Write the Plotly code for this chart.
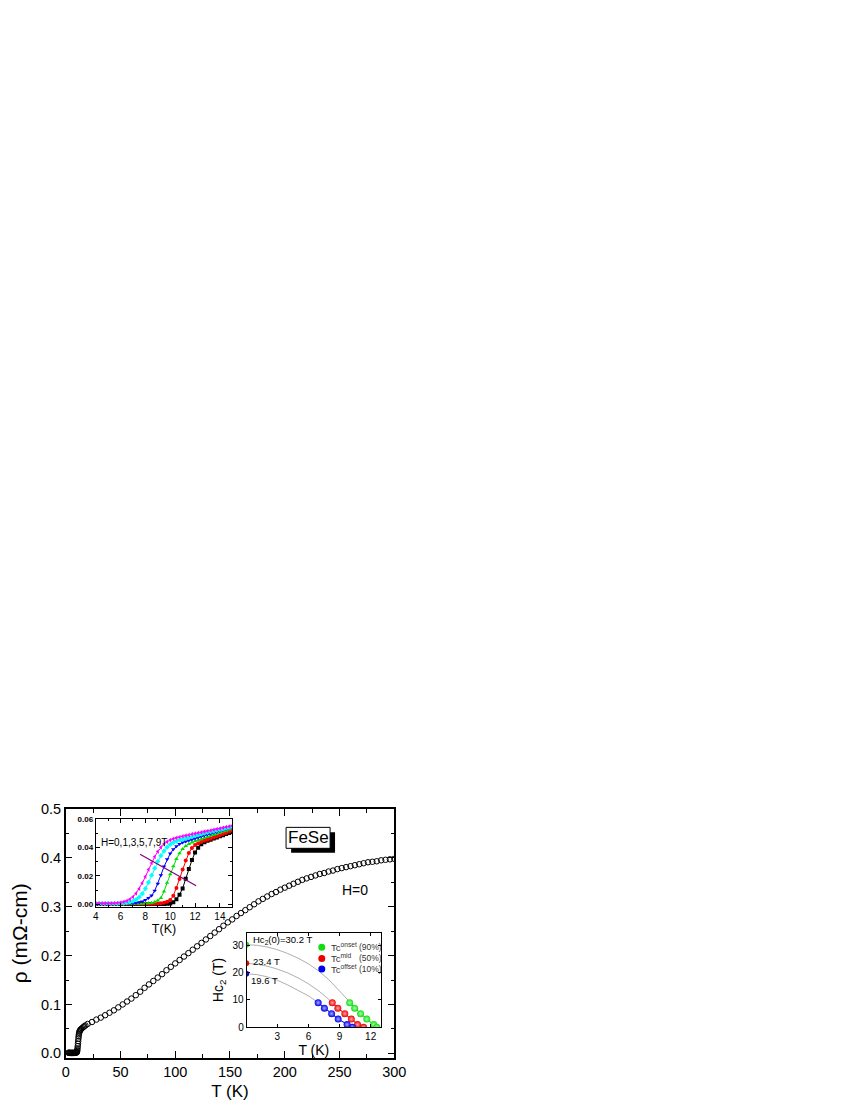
import plotly.graph_objects as go

# ---- main panel: rho(T) at H = 0 ----
t_low = [2.5, 3.0, 3.5, 4.0, 4.5, 5.0, 5.5, 6.0, 6.5, 7.0, 7.5, 8.0, 8.5, 9.0, 9.5,
         10.0, 10.2, 10.4, 10.6, 10.8, 11.0, 11.2, 11.4, 11.6, 11.8, 12.0, 12.3, 12.6,
         13.0, 13.5, 14.0, 15.0, 16.0, 17.0, 18.0]
rho_low = [0.0012, 0.0010, 0.0009, 0.0009, 0.0008, 0.0008, 0.0008, 0.0008, 0.0008, 0.0008,
           0.0009, 0.0009, 0.0010, 0.0011, 0.0013, 0.0018, 0.0025, 0.0040, 0.0065, 0.0100,
           0.0145, 0.0195, 0.0250, 0.0300, 0.0345, 0.0385, 0.0420, 0.0445, 0.0465, 0.0482,
           0.0495, 0.0515, 0.0535, 0.0553, 0.0570]
t_high = [20, 24, 28, 32, 36, 40, 44, 48, 52, 56, 60, 64, 68, 72, 76, 80, 84, 88, 92, 96,
          100, 104, 108, 112, 116, 120, 124, 128, 132, 136, 140, 144, 148, 152, 156, 160,
          164, 168, 172, 176, 180, 184, 188, 192, 196, 200, 204, 208, 212, 216, 220, 224,
          228, 232, 236, 240, 244, 248, 252, 256, 260, 264, 268, 272, 276, 280, 284, 288,
          292, 296, 300]
rho_high = [0.060, 0.064, 0.069, 0.073, 0.078, 0.083, 0.088, 0.094, 0.100, 0.106,
            0.112, 0.119, 0.126, 0.134, 0.141, 0.148, 0.155, 0.162, 0.170, 0.177,
            0.184, 0.191, 0.198, 0.205, 0.212, 0.219, 0.226, 0.233, 0.240, 0.247,
            0.254, 0.261, 0.268, 0.274, 0.281, 0.287, 0.293, 0.299, 0.305, 0.311,
            0.316, 0.321, 0.326, 0.330, 0.335, 0.339, 0.343, 0.347, 0.351, 0.355,
            0.358, 0.361, 0.364, 0.367, 0.369, 0.372, 0.374, 0.377, 0.379, 0.381,
            0.383, 0.385, 0.387, 0.389, 0.391, 0.392, 0.393, 0.395, 0.396, 0.397,
            0.398]

# ---- inset 1: transitions in field ----
t_tr = [4.00, 4.25, 4.50, 4.75, 5.00, 5.25, 5.50, 5.75, 6.00, 6.25, 6.50, 6.75, 7.00, 7.25,
        7.50, 7.75, 8.00, 8.25, 8.50, 8.75, 9.00, 9.25, 9.50, 9.75, 10.00, 10.25, 10.50,
        10.75, 11.00, 11.25, 11.50, 11.75, 12.00, 12.25, 12.50, 12.75, 13.00, 13.25, 13.50,
        13.75, 14.00, 14.25, 14.50, 14.75, 15.00]
rho_0T = [0.0002, 0.0002, 0.0002, 0.0002, 0.0002, 0.0002, 0.0002, 0.0002, 0.0002, 0.0002,
          0.0002, 0.0002, 0.0002, 0.0002, 0.0002, 0.0002, 0.0002, 0.0002, 0.0002, 0.0002,
          0.0002, 0.0002, 0.0002, 0.0003, 0.0006, 0.0015, 0.0035, 0.0068, 0.0112, 0.0180,
          0.0250, 0.0312, 0.0365, 0.0400, 0.0423, 0.0438, 0.0448, 0.0456, 0.0464, 0.0472,
          0.0480, 0.0488, 0.0496, 0.0504, 0.0512]
rho_1T = [0.0003, 0.0003, 0.0003, 0.0003, 0.0003, 0.0003, 0.0003, 0.0003, 0.0003, 0.0003,
          0.0003, 0.0003, 0.0003, 0.0003, 0.0003, 0.0003, 0.0003, 0.0003, 0.0003, 0.0004,
          0.0005, 0.0007, 0.0011, 0.0018, 0.0030, 0.0060, 0.0115, 0.0178, 0.0245, 0.0310,
          0.0362, 0.0397, 0.0418, 0.0431, 0.0440, 0.0448, 0.0455, 0.0463, 0.0471, 0.0479,
          0.0487, 0.0496, 0.0504, 0.0513, 0.0521]
rho_3T = [0.0003, 0.0003, 0.0003, 0.0003, 0.0003, 0.0003, 0.0003, 0.0003, 0.0003, 0.0003,
          0.0003, 0.0003, 0.0003, 0.0003, 0.0003, 0.0004, 0.0005, 0.0007, 0.0010, 0.0016,
          0.0026, 0.0045, 0.0090, 0.0152, 0.0212, 0.0268, 0.0320, 0.0360, 0.0390, 0.0411,
          0.0426, 0.0437, 0.0445, 0.0453, 0.0460, 0.0468, 0.0475, 0.0483, 0.0490, 0.0498,
          0.0505, 0.0513, 0.0520, 0.0528, 0.0536]
rho_5T = [0.0003, 0.0003, 0.0003, 0.0003, 0.0003, 0.0003, 0.0003, 0.0004, 0.0004, 0.0005,
          0.0005, 0.0006, 0.0007, 0.0010, 0.0014, 0.0020, 0.0030, 0.0045, 0.0062, 0.0095,
          0.0145, 0.0205, 0.0266, 0.0318, 0.0358, 0.0388, 0.0410, 0.0425, 0.0436, 0.0444,
          0.0451, 0.0458, 0.0465, 0.0472, 0.0478, 0.0485, 0.0492, 0.0498, 0.0505, 0.0511,
          0.0518, 0.0524, 0.0530, 0.0536, 0.0542]
rho_7T = [0.0004, 0.0004, 0.0004, 0.0004, 0.0004, 0.0004, 0.0005, 0.0005, 0.0006, 0.0008,
          0.0011, 0.0015, 0.0022, 0.0033, 0.0050, 0.0075, 0.0110, 0.0155, 0.0205, 0.0255,
          0.0302, 0.0343, 0.0376, 0.0403, 0.0422, 0.0436, 0.0446, 0.0454, 0.0460, 0.0466,
          0.0472, 0.0478, 0.0484, 0.0490, 0.0496, 0.0502, 0.0507, 0.0512, 0.0517, 0.0522,
          0.0527, 0.0532, 0.0537, 0.0542, 0.0548]
rho_9T = [0.0005, 0.0005, 0.0005, 0.0005, 0.0005, 0.0006, 0.0007, 0.0009, 0.0012, 0.0017,
          0.0024, 0.0035, 0.0052, 0.0077, 0.0110, 0.0150, 0.0195, 0.0245, 0.0292, 0.0335,
          0.0372, 0.0402, 0.0425, 0.0441, 0.0453, 0.0462, 0.0469, 0.0475, 0.0480, 0.0485,
          0.0490, 0.0495, 0.0499, 0.0504, 0.0508, 0.0513, 0.0517, 0.0521, 0.0526, 0.0531,
          0.0535, 0.0540, 0.0545, 0.0550, 0.0555]

# ---- inset 2: Hc2(T) ----
h_field = [9, 7, 5, 3, 1, 0]
tc_onset = [9.98, 10.46, 11.03, 11.63, 12.30, 12.60]
tc_mid = [8.30, 8.84, 9.51, 10.14, 10.74, 11.32]
tc_offset = [6.94, 7.54, 8.24, 8.87, 9.73, 10.24]
hc2_zero = [30.2, 23.4, 19.6]

fit_t_onset = [0, 1, 2, 3, 4, 5, 6, 7, 8, 9, 10, 11, 12, 12.56]
fit_h_onset = [30.2, 30.0, 29.4, 28.4, 27.0, 25.3, 23.2, 20.6, 17.3, 13.2, 8.9, 5.2, 1.9, 0]
fit_t_mid = [0, 1, 2, 3, 4, 5, 6, 7, 8, 9, 10, 11, 11.3]
fit_h_mid = [23.4, 23.1, 22.4, 21.3, 19.9, 18.1, 15.9, 13.3, 10.1, 6.7, 3.4, 0.8, 0]
fit_t_off = [0, 1, 2, 3, 4, 5, 6, 7, 8, 9, 10, 10.3]
fit_h_off = [19.6, 19.3, 18.5, 17.2, 15.5, 13.6, 11.5, 8.9, 5.8, 2.8, 0.4, 0]

FONT = "Arial, Liberation Sans, sans-serif"

fig = go.Figure()

# main curve
fig.add_trace(go.Scatter(
    x=t_low + t_high, y=rho_low + rho_high, mode="markers",
    marker=dict(symbol="circle-open", size=5.5, color="black", line=dict(width=1)),
    xaxis="x", yaxis="y", showlegend=False))

# transitions inset
tr_sets = [
    (rho_0T, "black", "square"),
    (rho_1T, "#ff0000", "circle"),
    (rho_3T, "#00dd00", "triangle-up"),
    (rho_5T, "#0000ff", "triangle-down"),
    (rho_7T, "#00ffff", "diamond"),
    (rho_9T, "#ff00ff", "triangle-left"),
]
for vals, col, sym in tr_sets:
    fig.add_trace(go.Scatter(
        x=t_tr, y=vals, mode="lines+markers",
        line=dict(color=col, width=1),
        marker=dict(symbol=sym, size=4, color=col),
        xaxis="x2", yaxis="y2", showlegend=False))

# Hc2 inset: fits
for ft, fh in [(fit_t_onset, fit_h_onset), (fit_t_mid, fit_h_mid), (fit_t_off, fit_h_off)]:
    fig.add_trace(go.Scatter(
        x=ft, y=fh, mode="lines", line=dict(color="#999999", width=0.8),
        xaxis="x3", yaxis="y3", showlegend=False))

hc2_sets = [
    (tc_onset, "#11dd11", "#aaffaa"),
    (tc_mid, "#ee0000", "#ffaaaa"),
    (tc_offset, "#0000ee", "#aaaaff"),
]
for (tcs, col, hl), h0 in zip(hc2_sets, hc2_zero):
    fig.add_trace(go.Scatter(
        x=tcs, y=h_field, mode="lines+markers",
        line=dict(color=col, width=1),
        marker=dict(size=7, color=col, gradient=dict(type="radial", color=hl)),
        xaxis="x3", yaxis="y3", showlegend=False))
    fig.add_trace(go.Scatter(
        x=[0], y=[h0], mode="markers",
        marker=dict(size=6, color=col),
        xaxis="x3", yaxis="y3", showlegend=False))

frame = dict(showline=True, linecolor="black", mirror="allticks", ticks="inside",
             showgrid=False, zeroline=False, automargin=False, tickcolor="black")

# the page body adds an 8 px offset, domains are shifted to compensate
fig.update_layout(
    template="none",
    width=850, height=1100,
    margin=dict(l=0, r=0, t=0, b=0, autoexpand=False),
    paper_bgcolor="white", plot_bgcolor="white",
    font=dict(family=FONT, color="black"),
    showlegend=False,
    xaxis=dict(**frame, domain=[0.06788, 0.45447], anchor="y", range=[0, 300],
               tickvals=[0, 50, 100, 150, 200, 250, 300], ticklen=7, linewidth=1.5,
               tickwidth=1.2, minor=dict(dtick=25, ticks="inside", ticklen=4,
                                         tickcolor="black"),
               tickfont=dict(size=14.5),
               title=dict(text="T (K)", font=dict(size=17), standoff=6)),
    yaxis=dict(**frame, domain=[0.04573, 0.27182], anchor="x", range=[-0.009, 0.5],
               tickvals=[0, 0.1, 0.2, 0.3, 0.4, 0.5], tickformat=".1f", ticklen=7,
               linewidth=1.5, tickwidth=1.2,
               minor=dict(dtick=0.05, ticks="inside", ticklen=4, tickcolor="black"),
               tickfont=dict(size=14.5),
               title=dict(text="ρ (mΩ-cm)", font=dict(size=21), standoff=10)),
    xaxis2=dict(**frame, domain=[0.10318, 0.26388], anchor="y2", range=[4, 15],
                tickvals=[4, 6, 8, 10, 12, 14], ticklen=4, linewidth=1,
                minor=dict(dtick=1, ticks="inside", ticklen=2, tickcolor="black"),
                tickfont=dict(size=10),
                title=dict(text="T(K)", font=dict(size=12.5), standoff=3)),
    yaxis2=dict(**frame, domain=[0.18300, 0.26245], anchor="x2", range=[-0.0017, 0.06],
                tickvals=[0, 0.02, 0.04, 0.06], tickformat=".2f", ticklen=4, linewidth=1,
                minor=dict(dtick=0.01, ticks="inside", ticklen=2, tickcolor="black"),
                tickfont=dict(size=8, weight="bold")),
    xaxis3=dict(**frame, domain=[0.28082, 0.43882], anchor="y3", range=[0.05, 13],
                tickvals=[3, 6, 9, 12], ticklen=3, linewidth=1,
                tickfont=dict(size=10),
                title=dict(text="T (K)", font=dict(size=14), standoff=3)),
    yaxis3=dict(**frame, domain=[0.07336, 0.15936], anchor="x3", range=[0, 34.6],
                tickvals=[0, 10, 20, 30], ticklen=3, linewidth=1,
                tickfont=dict(size=10),
                title=dict(text="Hc<sub>2</sub> (T)", font=dict(size=14), standoff=5)),
)

shapes = [
    # FeSe label box with drop shadow
    dict(type="rect", xref="x", yref="y", x0=205.8, x1=245.9, y0=0.4105, y1=0.4522,
         fillcolor="black", line=dict(width=0)),
    dict(type="rect", xref="x", yref="y", x0=201.2, x1=241.4, y0=0.4195, y1=0.4624,
         fillcolor="white", line=dict(color="black", width=1)),
    # line across the field curves
    dict(type="line", xref="x2", yref="y2", x0=7.57, y0=0.0353, x1=12.09, y1=0.0131,
         line=dict(color="#800080", width=1.2)),
]
legend_rows = [(29.3, "#11dd11", "onset", "(90%)"),
               (25.2, "#ee0000", "mid", "(50%)"),
               (21.3, "#0000ee", "offset", "(10%)")]
annotations = [
    dict(text="FeSe", xref="x", yref="y", x=221.3, y=0.441, showarrow=False,
         font=dict(size=17)),
    dict(text="H=0", xref="x", yref="y", x=264, y=0.334, showarrow=False,
         font=dict(size=14)),
    dict(text="H=0,1,3,5,7,9T", xref="x2", yref="y2", x=4.3, y=0.0438, xanchor="left",
         showarrow=False, font=dict(size=10)),
    dict(text="Hc<sub>2</sub>(0)=30.2 T", xref="x3", yref="y3", x=0.45, y=31.9,
         xanchor="left", showarrow=False, font=dict(size=9.5)),
    dict(text="23.4 T", xref="x3", yref="y3", x=0.45, y=24.0, xanchor="left",
         showarrow=False, font=dict(size=9.5)),
    dict(text="19.6 T", xref="x3", yref="y3", x=0.3, y=17.3, xanchor="left",
         showarrow=False, font=dict(size=9.5)),
]
for hy, col, sup, pct in legend_rows:
    shapes.append(dict(type="circle", xref="x3", yref="y3", xsizemode="pixel",
                       ysizemode="pixel", xanchor=7.29, yanchor=hy, x0=-3.5, x1=3.5,
                       y0=-3.5, y1=3.5, fillcolor=col, line=dict(width=0)))
    annotations.append(dict(text=f"Tc<sup>{sup}</sup>", xref="x3", yref="y3", x=7.95,
                            y=hy, xanchor="left", showarrow=False,
                            font=dict(size=9.5, color="#333333")))
    annotations.append(dict(text=pct, xref="x3", yref="y3", x=10.7, y=hy,
                            xanchor="left", showarrow=False,
                            font=dict(size=8.5, color="#333333")))

fig.update_layout(shapes=shapes, annotations=annotations)

fig.write_html("out.html")
